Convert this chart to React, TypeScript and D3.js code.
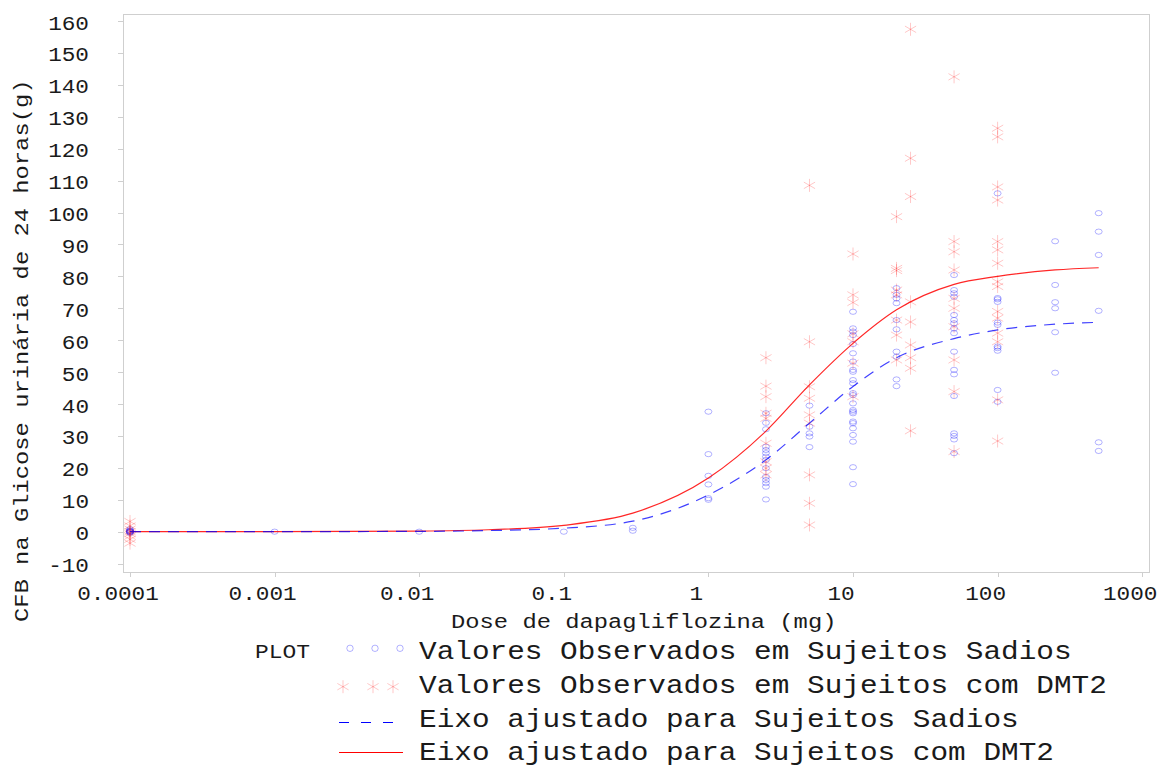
import React from "react";
import * as d3 from "d3";

// ---- Axis ticks ----
const xTickValues = [0.0001, 0.001, 0.01, 0.1, 1, 10, 100, 1000];
const xTickLabels = ["0.0001", "0.001", "0.01", "0.1", "1", "10", "100", "1000"];
const yTickValues = [-10, 0, 10, 20, 30, 40, 50, 60, 70, 80, 90, 100, 110, 120, 130, 140, 150, 160];

// ---- Observed values, healthy subjects (dose mg, CFB g) ----
const healthyObserved: [number, number[]][] = [
  [0.0001, [0.8, 0.4, 0.1, 0, -0.2, -0.4, 0.3, 0]],
  [0.001, [0]],
  [0.01, [0]],
  [0.1, [0]],
  [0.3, [1.2, 0.3]],
  [1, [37.6, 24.3, 17.5, 14.8, 10.5, 10]],
  [2.5, [37.1, 34.1, 32.1, 26.6, 25.6, 24.6, 23.5, 22.5, 19.9, 17.2, 16.2, 15.2, 14.1, 10.1]],
  [5, [39.5, 32.9, 30.8, 29.8, 26.5]],
  [10, [68.9, 63.7, 62.7, 61.6, 58.8, 55.9, 53.3, 50.7, 50.1, 47.5, 46.5, 43.4, 42.8, 40.2, 38.1, 37.6, 37.1, 34.5, 34, 32.4, 30.3, 28.2, 20.2, 14.9]],
  [20, [76.3, 74.2, 73.1, 71.6, 66.3, 63.4, 56.4, 54.8, 47.7, 45.6]],
  [50, [80.4, 75.7, 74.7, 73.6, 67.9, 66.3, 65.3, 63.7, 62.2, 56.4, 50.7, 49.3, 42.5, 30.8, 30, 28.9, 24.6]],
  [100, [106, 73.2, 72.8, 72, 65.5, 64.8, 58, 57.5, 56.7, 44.4, 40.7]],
  [250, [91, 77.3, 71.9, 70, 62.5, 49.8]],
  [500, [99.8, 94, 86.7, 69.2, 28, 25.3]],
];

// ---- Observed values, subjects with T2DM ----
const dmt2Observed: [number, number[]][] = [
  [0.0001, [3.2, 1.8, 0.8, 0, -0.6, -1.4, -2.4, -3.6]],
  [2.5, [54.5, 45.6, 42.3, 37.1, 35.5, 27.7, 21.9, 19.9, 17.8]],
  [5, [108.5, 59.5, 45.4, 41.8, 36.6, 34, 17.8, 8.9, 2.1]],
  [10, [87, 74.2, 71.8, 62, 59.5, 52.8, 42.3]],
  [20, [98.7, 82.5, 81.8, 75.7, 74.2, 66.3, 61.6, 53.8]],
  [25, [157.4, 117, 105, 72, 65.7, 58.5, 54.5, 51.2, 31.6]],
  [50, [142.5, 90.9, 87.7, 82, 73.1, 70, 64.2, 53.8, 43.9, 25.1]],
  [100, [126.4, 123.7, 108, 103.9, 90.9, 88.3, 84.1, 78.3, 76.8, 69, 66.9, 62.2, 59.5, 41.3, 28.4]],
];

// ---- Fitted curves (dose, predicted CFB) ----
const fitDoses = [0.0001, 0.001, 0.01, 0.03, 0.1, 0.3, 1, 2.5, 5, 10, 20, 50, 100, 250, 500];
const healthyFit = [0, 0.01, 0.1, 0.35, 1.1, 3.3, 11.5, 22.5, 34, 45.5, 54.5, 60.5, 63.2, 65, 65.6];
const dmt2Fit = [0, 0.02, 0.2, 0.6, 2.0, 5.8, 16.8, 31.5, 46, 59, 69.5, 77.5, 80, 82, 82.7];

// ---- Legend entries ----
const legendTitle = "PLOT";
const legendLabels = [
  "Valores Observados em Sujeitos Sadios",
  "Valores Observados em Sujeitos com DMT2",
  "Eixo ajustado para Sujeitos Sadios",
  "Eixo ajustado para Sujeitos com DMT2",
];

const xTitle = "Dose de dapagliflozina (mg)";
const yTitle = "CFB na Glicose urinária de 24 horas(g)";

const FONT = "'Liberation Mono', 'Courier New', monospace";
const FRAME = "#cfcfcf";
const BLUE = "#0000ff";
const RED = "#ff0000";
const INK = "#1a1a1a";
// Courier-like glyph proportions: keep advance width, flatten glyph height
const SQUASH = 0.87;

function starPath(cx: number, cy: number, r: number) {
  const dx = r * Math.cos(Math.PI / 6);
  const dy = r * Math.sin(Math.PI / 6);
  return (
    `M${cx},${cy - r}L${cx},${cy + r}` +
    `M${cx - dx},${cy - dy}L${cx + dx},${cy + dy}` +
    `M${cx - dx},${cy + dy}L${cx + dx},${cy - dy}`
  );
}

type LabelProps = {
  x: number;
  y: number;
  size: number;
  anchor?: "start" | "middle" | "end";
  rotate?: number;
  children: React.ReactNode;
};

function Label({ x, y, size, anchor = "start", rotate = 0, children }: LabelProps) {
  return (
    <text
      transform={`translate(${x},${y}) rotate(${rotate}) scale(1,${SQUASH})`}
      textAnchor={anchor}
      fontFamily={FONT}
      fontSize={size}
      fill={INK}
    >
      {children}
    </text>
  );
}

export default function App() {
  const W = 1160;
  const H = 767;
  const plot = { left: 123, top: 14, right: 1149, bottom: 572 };

  const x = d3.scaleLog().domain([0.0001, 1000]).range([130, 1142.2]);
  const y = d3.scaleLinear().domain([-10, 160]).range([563.6, 21]);

  const healthyPts = healthyObserved.flatMap(([d, vs]) => vs.map((v) => [d, v] as [number, number]));
  const dmt2Pts = dmt2Observed.flatMap(([d, vs]) => vs.map((v) => [d, v] as [number, number]));

  const line = d3
    .line<[number, number]>()
    .x((p) => x(p[0]))
    .y((p) => y(p[1]))
    .curve(d3.curveMonotoneX);

  const healthyLine = line(fitDoses.map((d, i) => [d, healthyFit[i]] as [number, number])) || "";
  const dmt2Line = line(fitDoses.map((d, i) => [d, dmt2Fit[i]] as [number, number])) || "";

  const legendRowsY = [659, 693, 726.5, 759.5];
  const legendTextX = 419;

  return (
    <svg width={W} height={H} style={{ display: "block", position: "absolute", left: 0, top: 0, background: "#fff" }}>
      <rect x={0} y={0} width={W} height={H} fill="#fff" />

      {/* frame */}
      <rect
        x={plot.left + 0.5}
        y={plot.top + 0.5}
        width={plot.right - plot.left}
        height={plot.bottom - plot.top}
        fill="none"
        stroke={FRAME}
        strokeWidth={1}
      />

      {/* y axis ticks and labels */}
      {yTickValues.map((v) => (
        <g key={`y${v}`}>
          <line x1={118} x2={plot.left} y1={Math.round(y(v)) + 0.5} y2={Math.round(y(v)) + 0.5} stroke={FRAME} />
          <Label x={89} y={y(v) + 8.5} size={22.7} anchor="end">
            {v}
          </Label>
        </g>
      ))}

      {/* x axis ticks and labels */}
      {xTickValues.map((v, i) => (
        <g key={`x${v}`}>
          <line x1={Math.round(x(v)) + 0.5} x2={Math.round(x(v)) + 0.5} y1={plot.bottom} y2={plot.bottom + 5} stroke={FRAME} />
          <Label x={x(v) - 12} y={600} size={22.7} anchor="middle">
            {xTickLabels[i]}
          </Label>
        </g>
      ))}

      {/* axis titles */}
      <Label x={451} y={628} size={23.8}>
        {xTitle}
      </Label>
      <Label x={28} y={622} size={23.8} rotate={-90}>
        {yTitle}
      </Label>

      {/* observed: healthy subjects */}
      <g fill="none" stroke={BLUE} strokeOpacity={0.3} strokeWidth={1}>
        {healthyPts.map((p, i) => (
          <ellipse key={`h${i}`} cx={x(p[0])} cy={y(p[1])} rx={3.5} ry={2.6} />
        ))}
      </g>

      {/* observed: T2DM subjects */}
      <g fill="none" stroke={RED} strokeOpacity={0.22} strokeWidth={1}>
        {dmt2Pts.map((p, i) => (
          <path key={`d${i}`} d={starPath(x(p[0]), y(p[1]), 6.5)} />
        ))}
      </g>

      {/* fitted curves */}
      <path d={dmt2Line} fill="none" stroke={RED} strokeOpacity={0.85} strokeWidth={1.2} />
      <path d={healthyLine} fill="none" stroke={BLUE} strokeOpacity={0.75} strokeWidth={1.2} strokeDasharray="11,8" />

      {/* legend */}
      <Label x={255} y={657.7} size={22.9}>
        {legendTitle}
      </Label>
      <g fill="none" stroke={BLUE} strokeOpacity={0.3}>
        {[350, 375, 400].map((cx) => (
          <circle key={`lc${cx}`} cx={cx} cy={648.3} r={3.2} />
        ))}
      </g>
      <g fill="none" stroke={RED} strokeOpacity={0.22}>
        {[343, 373, 393].map((cx) => (
          <path key={`ls${cx}`} d={starPath(cx, 686.7, 6.5)} />
        ))}
      </g>
      <line x1={339} x2={397} y1={722.5} y2={722.5} stroke={BLUE} strokeWidth={1} strokeDasharray="10,12" />
      <line x1={339} x2={403} y1={752.5} y2={752.5} stroke={RED} strokeWidth={1} />
      {legendLabels.map((t, i) => (
        <Label key={t} x={legendTextX} y={legendRowsY[i]} size={29.4}>
          {t}
        </Label>
      ))}
    </svg>
  );
}
